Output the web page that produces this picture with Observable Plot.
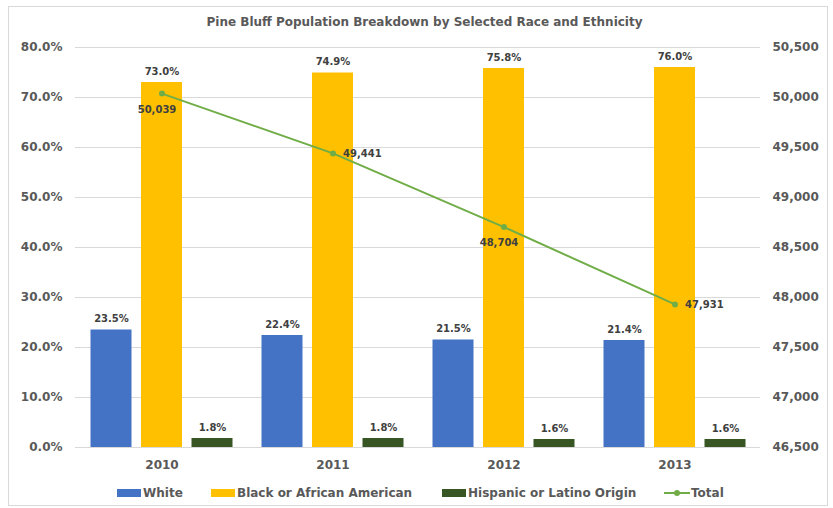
<!DOCTYPE html>
<html><head><meta charset="utf-8">
<script src="https://cdn.jsdelivr.net/npm/d3@7"></script>
<script src="https://cdn.jsdelivr.net/npm/@observablehq/plot@0.6"></script>
<style>
body{margin:0;background:#fff;font-family:"DejaVu Sans",sans-serif;}
#wrap{position:relative;width:833px;height:508px;overflow:hidden;background:#fff;}
#frame{position:absolute;left:8px;top:6px;width:820px;height:500px;border:1px solid #d9d9d9;box-sizing:border-box;}
#title{position:absolute;top:15px;left:8px;width:833px;text-align:center;font-weight:bold;font-size:12px;color:#595959;line-height:14px;}
#chart{position:absolute;left:0;top:0;}
.lg{position:absolute;top:486px;font-size:12px;font-weight:bold;color:#595959;line-height:14px;white-space:nowrap;}
.sw{position:absolute;top:489px;width:24px;height:8px;}
</style></head>
<body>
<div id="wrap">
<div id="frame"></div>
<div id="title">Pine Bluff Population Breakdown by Selected Race and Ethnicity</div>
<div id="chart"></div>
<div id="legend"></div>
</div>
<script>
const years = ["2010", "2011", "2012", "2013"];
const white = [23.5, 22.4, 21.5, 21.4];
const black = [73.0, 74.9, 75.8, 76.0];
const hispanic = [1.8, 1.8, 1.6, 1.6];
const total = [50039, 49441, 48704, 47931];
const seriesNames = ["White", "Black or African American", "Hispanic or Latino Origin"];
const lineName = "Total";
const leftTicks = [0, 10, 20, 30, 40, 50, 60, 70, 80];
const rightTicks = [46500, 47000, 47500, 48000, 48500, 49000, 49500, 50000, 50500];

const colors = ["#4472C4", "#FFC000", "#375623"];
const lineColor = "#70AD47";
const rMin = 46500, rMax = 50500, lMax = 80;
const toLeft = t => (t - rMin) / (rMax - rMin) * lMax;
const fromLeft = v => rMin + v / lMax * (rMax - rMin);

const seriesVals = [white, black, hispanic];
const offsets = [-50.5, 0, 50.5];
const barData = seriesVals.map(vals => years.map((y, i) => ({year: y, value: vals[i]})));
const totalData = years.map((y, i) => ({year: y, total: total[i], idx: i}));

const marks = [
  Plot.gridY(leftTicks, {stroke: "#d9d9d9", strokeOpacity: 1}),
];
barData.forEach((d, k) => {
  marks.push(Plot.barY(d, {x: "year", y: "value", fill: colors[k], dx: offsets[k], insetLeft: 65, insetRight: 65}));
});
marks.push(Plot.ruleY([0], {stroke: "#d9d9d9"}));
barData.forEach((d, k) => {
  marks.push(Plot.text(d, {x: "year", y: "value", text: v => v.value.toFixed(1) + "%", dx: offsets[k], dy: -11,
    fill: "#404040", fontSize: 10, fontWeight: "bold"}));
});
marks.push(
  Plot.line(totalData, {x: "year", y: d => toLeft(d.total), stroke: lineColor, strokeWidth: 2}),
  Plot.dot(totalData, {x: "year", y: d => toLeft(d.total), fill: lineColor, r: 3}),
  Plot.text(totalData.filter(d => d.idx % 2 === 0), {x: "year", y: d => toLeft(d.total), text: d => d3.format(",")(d.total),
    dy: 16, dx: -5, fill: "#404040", fontSize: 10, fontWeight: "bold"}),
  Plot.text(totalData.filter(d => d.idx % 2 === 1), {x: "year", y: d => toLeft(d.total), text: d => d3.format(",")(d.total),
    dx: 10, textAnchor: "start", fill: "#404040", fontSize: 10, fontWeight: "bold"}),
  Plot.axisY(leftTicks, {anchor: "left", tickSize: 0, tickPadding: 13, tickFormat: d => d.toFixed(1) + "%", label: null,
    fontSize: 12, fontWeight: "bold", fill: "#595959"}),
  Plot.axisY(rightTicks.map(toLeft), {anchor: "right", tickSize: 0, tickPadding: 12, tickFormat: d => d3.format(",")(Math.round(fromLeft(d))), label: null,
    fontSize: 12, fontWeight: "bold", fill: "#595959"}),
  Plot.axisX({tickSize: 0, tickPadding: 13, label: null, fontSize: 12, fontWeight: "bold", fill: "#595959"})
);

const chart = Plot.plot({
  width: 833,
  height: 480,
  marginTop: 47,
  marginBottom: 33,
  marginLeft: 75,
  marginRight: 73,
  style: {fontFamily: "DejaVu Sans", background: "transparent", overflow: "visible"},
  x: {type: "band", domain: years, padding: 0},
  y: {domain: [0, lMax]},
  marks
});
document.getElementById("chart").appendChild(chart);

// legend
const lg = document.getElementById("legend");
const swX = [117, 211, 442];
const txX = [143, 237, 468];
seriesNames.forEach((n, k) => {
  const s = document.createElement("div"); s.className = "sw"; s.style.left = swX[k] + "px"; s.style.background = colors[k]; lg.appendChild(s);
  const t = document.createElement("div"); t.className = "lg"; t.style.left = txX[k] + "px"; t.textContent = n; lg.appendChild(t);
});
const ls = document.createElementNS("http://www.w3.org/2000/svg", "svg");
ls.setAttribute("width", 26); ls.setAttribute("height", 10);
ls.style.position = "absolute"; ls.style.left = "664px"; ls.style.top = "488px";
ls.innerHTML = `<line x1="0" y1="5" x2="26" y2="5" stroke="${lineColor}" stroke-width="2"/><circle cx="13" cy="5" r="3" fill="${lineColor}"/>`;
lg.appendChild(ls);
const lt = document.createElement("div"); lt.className = "lg"; lt.style.left = "691px"; lt.textContent = lineName; lg.appendChild(lt);
</script>
</body></html>
